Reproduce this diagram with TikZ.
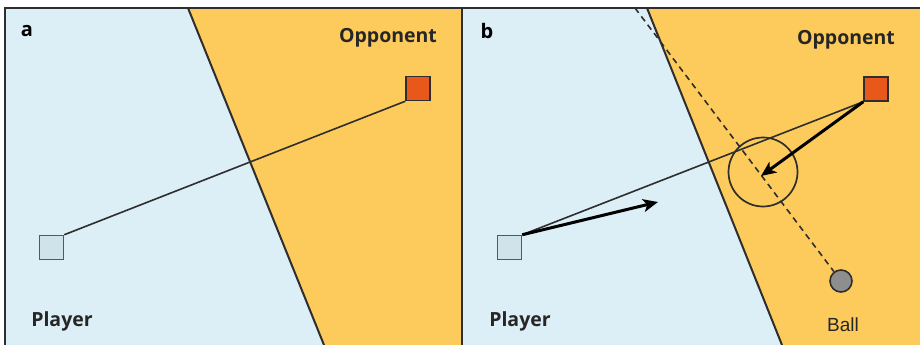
\documentclass[tikz,border=0pt]{standalone}
\usepackage{fontspec}
\setmainfont{Open Sans}
\newfontfamily\ballfont{Liberation Sans}
\usetikzlibrary{arrows.meta}
\definecolor{field}{HTML}{DCEEF6}
\definecolor{zone}{HTML}{FDCB5B}
\definecolor{oppfill}{HTML}{E8581A}
\definecolor{plfill}{HTML}{CFE4EA}
\definecolor{ink}{HTML}{2E2E2E}
\definecolor{ballfill}{HTML}{8E8E8E}
\begin{document}
\begin{tikzpicture}[x=1pt,y=-1pt,
  frame/.style={draw=ink,line width=1.6pt},
  boundary/.style={draw=ink,line width=2pt},
  sightline/.style={draw=ink,line width=1.6pt},
  move/.style={draw=black,line width=3pt,-{Stealth[length=15pt,width=13pt,inset=4pt]}},
  playersq/.style={draw=ink!80,fill=plfill,line width=1.5pt,minimum size=24pt,inner sep=0pt},
  oppsq/.style={draw=ink,fill=oppfill,line width=1.5pt,minimum size=24pt,inner sep=0pt},
  tag/.style={font=\bfseries\fontsize{19.5}{22}\selectfont,text=black!85,inner sep=0pt},
  panel/.style={font=\bfseries\fontsize{20}{22}\selectfont,text=black,inner sep=0pt}]
\useasboundingbox (0,0) rectangle (920,345);
% ---- panel a ----
\fill[field] (5,8) rectangle (462,345);
\fill[zone] (188,8) -- (462,8) -- (462,345) -- (324,345) -- cycle;
\draw[boundary] (188,8) -- (324,345);
\node[playersq] (pa) at (51.5,247.5) {};
\node[oppsq] (oa) at (418,88.5) {};
\draw[sightline] (pa.north east) -- (oa.south west);
\node[panel] (la) at (27,31) {a};
\node[tag] (ta) at (388,38) {Opponent};
\node[tag] (tpa) at (62,321) {Player};
% ---- panel b ----
\fill[field] (462,8) rectangle (920,345);
\fill[zone] (647,8) -- (920,8) -- (920,345) -- (782,345) -- cycle;
\draw[boundary] (647,8) -- (782,345);
\node[playersq] (pb) at (509.5,247.5) {};
\node[oppsq] (ob) at (876,89) {};
\node[draw=ink,fill=ballfill,line width=1.6pt,circle,minimum size=22pt,inner sep=0pt] (ball) at (841,281) {};
\coordinate (dtop) at (635,8);
\draw[ink,line width=1.6pt,dash pattern=on 6pt off 4.5pt] (dtop) -- (ball);
\node[draw=ink,line width=1.7pt,circle,minimum size=69pt,inner sep=0pt] (reach) at (763,172) {};
\draw[sightline] (pb.north east) -- (ob.south west);
\coordinate (runto) at (658,202);
\coordinate (cutoff) at (761,176);
\draw[move] (pb.north east) -- (runto);
\draw[move] (ob.south west) -- (cutoff);
\node[panel] (lb) at (487,31) {b};
\node[tag] (tb) at (846,40) {Opponent};
\node[tag] (tpb) at (520,321) {Player};
\node[font=\ballfont\fontsize{19}{21}\selectfont,text=black!85,inner sep=0pt] (tball) at (843,325) {Ball};
% ---- frames ----
\draw[frame] (5,345) -- (5,8) -- (920,8);
\draw[frame] (462,8) -- (462,345);
\end{tikzpicture}
\end{document}
